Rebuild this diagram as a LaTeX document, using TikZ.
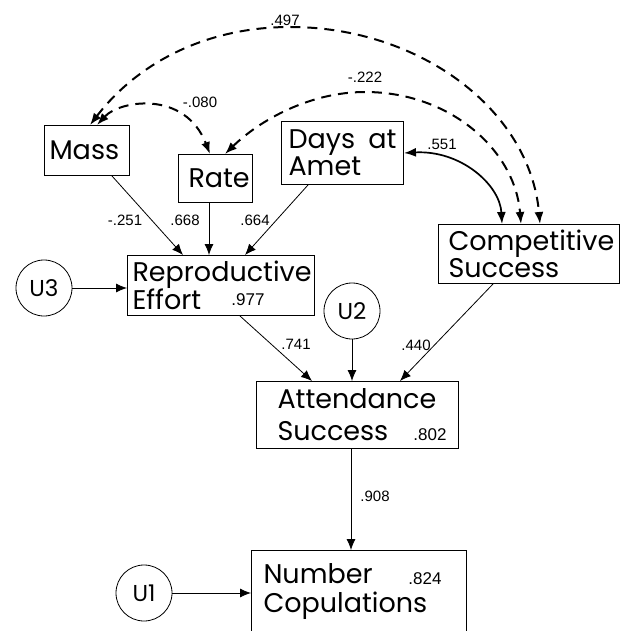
\documentclass[tikz,border=0pt]{standalone}
\usepackage{fontspec}
\setmainfont{Poppins}
\newfontfamily\numfont{Liberation Sans}
\usetikzlibrary{shapes,arrows.meta}

\begin{document}
\begin{tikzpicture}[x=1pt, y=-1pt]
		\tikzstyle {box} = [draw, line width=1pt, anchor=north west, inner ysep=0pt, align=left, font=\fontsize{27}{27}\selectfont]
		\tikzstyle {err} = [draw, circle, line width=0.8pt, minimum size=56pt, inner sep=0pt, font=\fontsize{23}{23}\selectfont]
		\tikzstyle {effect} = [line width=0.8pt, -{Latex[length=11pt, width=9pt]}]
		\tikzstyle {cov} = [line width=2pt, {Latex[length=12pt, width=9pt]}-{Latex[length=12pt, width=9pt]}]
		\tikzstyle {coef} = [inner sep=0pt, font=\numfont\fontsize{15}{15}\selectfont]
		\tikzstyle {rsq} = [inner sep=0pt, anchor=base, font=\numfont\fontsize{17}{17}\selectfont]

		\useasboundingbox (0,0) rectangle (620,631);
		\clip (0,0) rectangle (620,631);

		\node[box, text width=75pt, inner xsep=5pt, minimum height=50pt] (mass) at (44,125) {Mass};
		\node[box, text width=54pt, inner xsep=10pt, minimum height=48pt, align=center] (rate) at (178,154) {Rate};
		\node[box, text width=108pt, inner xsep=7pt, minimum height=63pt] (days) at (281,121) {Days\hfill at\\Amet};
		\node[box, text width=161pt, inner xsep=10pt, minimum height=59pt] (cs) at (438,224) {Competitive\\Success};
		\node[box, text width=177pt, inner xsep=5pt, minimum height=60pt] (re) at (127,255) {Reproductive\\Effort};
		\node[box, text width=160pt, inner xsep=21pt, minimum height=67pt] (as) at (256,381) {Attendance\\[5pt]Success};
		\node[box, text width=191pt, inner xsep=12pt, minimum height=83pt] (nc) at (251,550) {Number\\[2pt]Copulations};

		\node[err] (u3) at (44,288) {U3};
		\node[err] (u2) at (352,311) {U2};
		\node[err] (u1) at (144,593) {U1};

		\node[rsq] (r2re) at (248,305) {.977};
		\node[rsq] (r2as) at (430,440) {.802};
		\node[rsq] (r2nc) at (425,584) {.824};

		\draw[effect] ([xshift=68pt]mass.south west) -- ([xshift=56pt]re.north west);
		\draw[effect] ([xshift=31pt]rate.south west) -- ([xshift=82pt]re.north west);
		\draw[effect] ([xshift=27pt]days.south west) -- ([xshift=118pt]re.north west);
		\draw[effect] (u3.east) -- (u3.east -| re.west);
		\draw[effect] ([xshift=113pt]re.south west) -- ([xshift=56pt]as.north west);
		\draw[effect] (u2.south) -- (u2.south |- as.north);
		\draw[effect] ([xshift=55pt]cs.south west) -- ([xshift=144pt]as.north west);
		\draw[effect] ([xshift=95pt]as.south west) -- ([xshift=100pt]nc.north west);
		\draw[effect] (u1.east) -- (u1.east -| nc.west);

		\draw[cov, dash pattern=on 10pt off 7pt] ([xshift=46pt]mass.north west) .. controls +(50,-65) and (210,27) .. (290,27)
			.. controls (420,27) and (530,110) .. ([xshift=102pt]cs.north west);
		\draw[cov, dash pattern=on 10pt off 7pt] ([xshift=47pt]rate.north west) .. controls +(35,-34) and (310,92) .. (365,92)
			.. controls (450,92) and (515,150) .. ([xshift=83pt]cs.north west);
		\draw[cov, dash pattern=on 10pt off 7pt] ([xshift=53pt]mass.north west) .. controls +(23,-25) and (185,90) .. ([xshift=32pt]rate.north west);
		\draw[cov, line width=1.7pt] (days.east) .. controls +(57,-3) and (500,185) .. ([xshift=64pt]cs.north west);

		\node[coef] (c497) at (285,20) {.497};
		\node[coef] (c222) at (365,77) {-.222};
		\node[coef] (c080) at (200,102) {-.080};
		\node[coef] (c551) at (442,144) {.551};
		\node[coef] (c251) at (125,220) {-.251};
		\node[coef] (c668) at (185,220) {.668};
		\node[coef] (c664) at (255,220) {.664};
		\node[coef] (c741) at (296,344) {.741};
		\node[coef] (c440) at (416,345) {.440};
		\node[coef] (c908) at (375,496) {.908};
	\end{tikzpicture}
\end{document}
